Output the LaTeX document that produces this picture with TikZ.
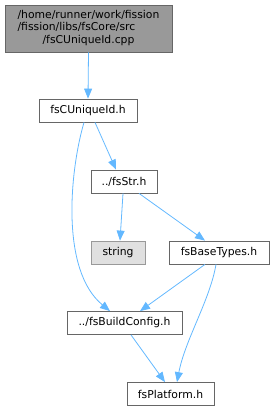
\documentclass[tikz,border=0pt]{standalone}
\usepackage{fontspec}
\setmainfont{DejaVu Sans}
\usetikzlibrary{arrows.meta}
\definecolor{edgeblue}{HTML}{63B8FF}
\definecolor{boxborder}{HTML}{666666}
\definecolor{topgrey}{HTML}{999999}
\definecolor{extgrey}{HTML}{E0E0E0}
\definecolor{extborder}{HTML}{999999}
\begin{document}
\begin{tikzpicture}[x=1pt,y=-1pt,
  box/.style={draw=boxborder, fill=white, line width=0.8pt, inner sep=0pt,
    minimum height=23pt, font=\fontsize{10.8}{12.3}\selectfont},
  dep/.style={draw=edgeblue, line width=0.8pt,
    -{Triangle[length=10pt,width=8pt,fill=edgeblue]}}]
\useasboundingbox (0,0) rectangle (275,411);
\node[box, fill=topgrey, minimum width=167pt, minimum height=47pt] (src) at (88.5,28.5)
  {\renewcommand{\arraystretch}{1}\begin{tabular}{@{}l@{}}/home/runner/work/fission\\/fission/libs/fsCore/src\\\multicolumn{1}{@{}c@{}}{/fsCUniqueId.cpp}\end{tabular}};
\node[box, minimum width=98pt] (uid) at (88,110.5) {fsCUniqueId.h};
\node[box, minimum width=66pt] (str) at (124,181.5) {../fsStr.h};
\node[box, fill=extgrey, draw=extborder, minimum width=54pt] (string) at (118,252.5) {string};
\node[box, minimum width=100pt] (base) at (219,252.5) {fsBaseTypes.h};
\node[box, minimum width=115pt] (cfg) at (124.5,323) {../fsBuildConfig.h};
\node[box, minimum width=87pt] (plat) at (170.5,394) {fsPlatform.h};
\draw[dep] (src.south) -- (uid.north);
\draw[dep] ([xshift=7pt]uid.south) -- ([xshift=-8pt]str.north);
\draw[dep] ([xshift=-4pt]uid.south) .. controls (70,170) and (60,270) .. ([xshift=-14.5pt]cfg.north);
\draw[dep] ([xshift=-1pt]str.south) -- ([xshift=2pt]string.north);
\draw[dep] ([xshift=15pt]str.south) -- ([xshift=-14pt]base.north);
\draw[dep] ([xshift=-14pt]base.south) -- ([xshift=15.5pt]cfg.north);
\draw[dep] ([xshift=-3pt]base.south) .. controls (210,300) and (185,340) .. ([xshift=6.5pt]plat.north);
\draw[dep] ([xshift=6.5pt]cfg.south) -- ([xshift=-5.5pt]plat.north);
\end{tikzpicture}
\end{document}
